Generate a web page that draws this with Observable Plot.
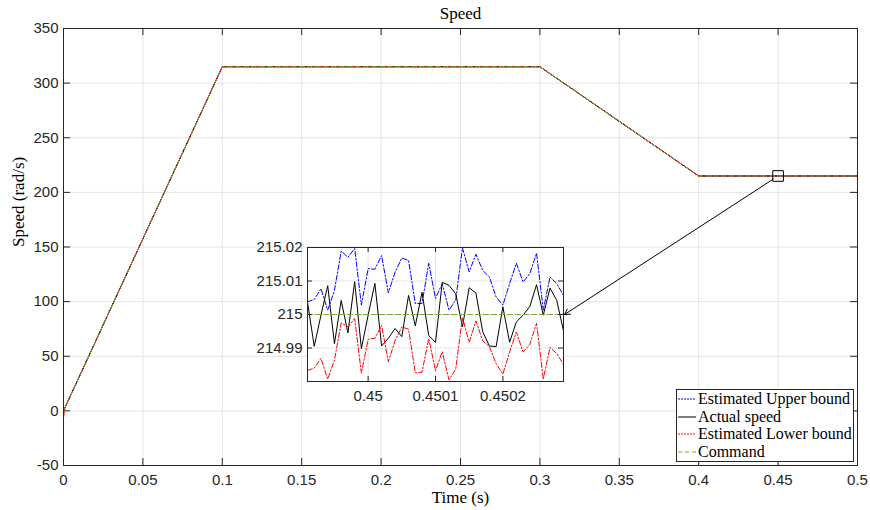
<!DOCTYPE html>
<html><head><meta charset="utf-8">
<script src="https://cdn.jsdelivr.net/npm/d3@7"></script>
<script src="https://cdn.jsdelivr.net/npm/@observablehq/plot@0.6"></script>
<style>
body{margin:0;background:#fff;}
#wrap{position:relative;width:870px;height:510px;overflow:hidden;}
#wrap svg{position:absolute;overflow:visible;}
#legend{position:absolute;left:676px;top:389px;width:178px;height:73px;border:1px solid #262626;background:#fff;box-sizing:border-box;font-family:'Liberation Serif','Times New Roman',serif;font-size:16px;color:#000;padding-top:0px;}
#legend .row{display:flex;align-items:center;height:17.7px;white-space:nowrap;}
#legend .row svg{position:static;margin:0 2px 0 1px;}
</style></head><body><div id="wrap"></div>
<script>
// ---- main axes data ----
const mainTime      = [0, 0.1, 0.3, 0.4, 0.5];
const mainUpper     = [0, 315, 315, 215, 215];
const mainActual    = [0, 315, 315, 215, 215];
const mainCommand   = [0, 315, 315, 215, 215];
const mainLowerTime = [0, 0.001, 0.1, 0.3, 0.4, 0.5];
const mainLower     = [-6, 3.15, 315, 315, 215, 215];
const mainXTicks = [0, 0.05, 0.1, 0.15, 0.2, 0.25, 0.3, 0.35, 0.4, 0.45, 0.5];
const mainYTicks = [-50, 0, 50, 100, 150, 200, 250, 300, 350];
// zoom marker and arrow annotation (data coordinates of main axes)
const zoomPoint = [{t: 0.45, v: 215}];
const arrowLink = [{x1: 0.45, y1: 215, x2: 0.3155, y2: 88.2}];

// ---- inset data ----
const insetTime = [0.44991,0.44992,0.44993,0.44994,0.44995,0.44996,0.44997,0.44998,0.44999,0.45000,
  0.45001,0.45002,0.45003,0.45004,0.45005,0.45006,0.45007,0.45008,0.45009,0.45010,
  0.45011,0.45012,0.45013,0.45014,0.45015,0.45016,0.45017,0.45018,0.45019,0.45020,
  0.45021,0.45022,0.45023,0.45024,0.45025,0.45026,0.45027,0.45028,0.45029];
const insetUpper = [215.0038,215.0045,215.0077,215.0013,215.0072,215.0189,215.0171,215.0197,215.0028,215.0137,
  215.0135,215.0176,215.0065,215.0126,215.0169,215.0161,215.0033,215.0033,215.0153,215.0048,
  215.0092,215.0013,215.0043,215.0199,215.0127,215.0180,215.0132,215.0112,215.0052,215.0028,
  215.0092,215.0153,215.0097,215.0122,215.0183,215.0013,215.0112,215.0092,215.0057];
const insetActual = [215.0037,214.9905,214.9998,215.0086,214.9913,215.0042,214.9945,215.0098,214.9898,214.9998,
  215.0093,214.9906,214.9929,214.9958,214.9934,215.0057,214.9966,215.0066,214.9937,214.9917,
  215.0096,215.0087,215.0062,214.9963,215.0080,215.0064,214.9949,214.9906,214.9904,215.0023,
  214.9917,214.9978,214.9998,215.0024,215.0089,214.9998,215.0079,215.0042,214.9951];
const insetLower = [214.9833,214.9840,214.9869,214.9807,214.9864,214.9975,214.9963,214.9988,214.9825,214.9926,
  214.9929,214.9967,214.9859,214.9922,214.9963,214.9956,214.9826,214.9828,214.9928,214.9832,
  214.9889,214.9805,214.9837,214.9991,214.9917,214.9981,214.9922,214.9904,214.9853,214.9822,
  214.9888,214.9948,214.9888,214.9911,214.9974,214.9807,214.9902,214.9883,214.9851];
const insetCommand = insetTime.map(() => 215);
const insetXTicks = [0.45, 0.4501, 0.4502];
const insetYTicks = [214.99, 215, 215.01, 215.02];

// legend
const legendLabels = ["Estimated Upper bound", "Actual speed", "Estimated Lower bound", "Command"];
const seriesColors = ["#0000ff", "#000000", "#ff0000", "#77ac30"];
const seriesDash = ["5,2,1.5,2", null, "5,2,1.5,2", "5,3"];

const toRows = (t, v) => t.map((x, i) => ({t: x, v: v[i]}));
const axisColor = "#262626", gridColor = "#e4e4e4";
const sans = "'Liberation Sans', Arial, Helvetica, sans-serif";
const serif = "'Liberation Serif', 'Times New Roman', serif";

function lineMarks(tArrs, series) {
  return series.map((vals, k) => Plot.line(toRows(tArrs[k], vals), {
    x: "t", y: "v", stroke: seriesColors[k], strokeWidth: 1,
    strokeDasharray: seriesDash[k] || undefined
  }));
}
function boxTicks(xT, yT, fw, fh, len) {
  return [
    Plot.tickY(yT, {y: d => d, insetRight: fw - len, stroke: axisColor}),
    Plot.tickY(yT, {y: d => d, insetLeft: fw - len, stroke: axisColor}),
    Plot.tickX(xT, {x: d => d, insetTop: fh - len, stroke: axisColor}),
    Plot.tickX(xT, {x: d => d, insetBottom: fh - len, stroke: axisColor})
  ];
}

const W = 870, H = 510, mL = 63, mR = 13, mT = 28, mB = 45;
const fw = W - mL - mR, fh = H - mT - mB;
const main = Plot.plot({
  width: W, height: H, marginLeft: mL, marginRight: mR, marginTop: mT, marginBottom: mB,
  style: {fontFamily: sans, background: "transparent", overflow: "visible"},
  x: {domain: [0, 0.5]}, y: {domain: [-50, 350]},
  marks: [
    Plot.gridX(mainXTicks, {stroke: gridColor, strokeOpacity: 1}),
    Plot.gridY(mainYTicks, {stroke: gridColor, strokeOpacity: 1}),
    ...lineMarks([mainTime, mainTime, mainLowerTime, mainTime], [mainUpper, mainActual, mainLower, mainCommand]),
    Plot.dot(zoomPoint, {x: "t", y: "v", symbol: "square", r: 6, stroke: "#000", fill: "none", strokeWidth: 1}),
    Plot.arrow(arrowLink, {x1: "x1", y1: "y1", x2: "x2", y2: "y2", insetStart: 6, headLength: 9, stroke: "#000", strokeWidth: 1}),
    ...boxTicks(mainXTicks, mainYTicks, fw, fh, 7),
    Plot.axisX(mainXTicks, {tickSize: 0, tickPadding: 9, tickFormat: d => String(d), fontSize: 15, color: axisColor, label: null}),
    Plot.axisY(mainYTicks, {tickSize: 0, tickPadding: 5, tickFormat: d => String(d), fontSize: 15, color: axisColor, label: null}),
    Plot.frame({stroke: axisColor}),
    Plot.text(["Speed"], {frameAnchor: "top", lineAnchor: "middle", dy: -15, fontFamily: serif, fontSize: 17, fill: "#000"}),
    Plot.text(["Time (s)"], {frameAnchor: "bottom", lineAnchor: "middle", dy: 32, fontFamily: serif, fontSize: 17, fill: "#000"}),
    Plot.text(["Speed (rad/s)"], {frameAnchor: "left", lineAnchor: "middle", dx: -45, rotate: -90, fontFamily: serif, fontSize: 17, fill: "#000"})
  ]
});
main.style.left = "0px"; main.style.top = "0px";

const iML = 60, iMR = 5, iMT = 5, iMB = 28, ifw = 256, ifh = 134;
const inset = Plot.plot({
  width: iML + ifw + iMR, height: iMT + ifh + iMB,
  marginLeft: iML, marginRight: iMR, marginTop: iMT, marginBottom: iMB,
  style: {fontFamily: sans, background: "transparent", overflow: "visible"},
  x: {domain: [0.44991, 0.45029]}, y: {domain: [214.98, 215.02]},
  marks: [
    Plot.frame({fill: "#fff"}),
    Plot.gridX(insetXTicks, {stroke: gridColor, strokeOpacity: 1}),
    Plot.gridY(insetYTicks, {stroke: gridColor, strokeOpacity: 1}),
    ...lineMarks([insetTime, insetTime, insetTime, insetTime], [insetUpper, insetActual, insetLower, insetCommand]),
    ...boxTicks(insetXTicks, insetYTicks, ifw, ifh, 5),
    Plot.axisX(insetXTicks, {tickSize: 0, tickPadding: 9, tickFormat: d => String(d), fontSize: 15, color: axisColor, label: null}),
    Plot.axisY(insetYTicks, {tickSize: 0, tickPadding: 5, tickFormat: d => String(d), fontSize: 15, color: axisColor, label: null}),
    Plot.frame({stroke: axisColor})
  ]
});
inset.style.left = (307 - iML) + "px"; inset.style.top = (247 - iMT) + "px";

const wrap = document.getElementById("wrap");
wrap.appendChild(main);
wrap.appendChild(inset);

const leg = document.createElement("div");
leg.id = "legend";
legendLabels.forEach((lab, k) => {
  const row = document.createElement("div");
  row.className = "row";
  const ns = "http://www.w3.org/2000/svg";
  const s = document.createElementNS(ns, "svg");
  s.setAttribute("width", 18); s.setAttribute("height", 10);
  const l = document.createElementNS(ns, "line");
  l.setAttribute("x1", 0); l.setAttribute("x2", 18); l.setAttribute("y1", 5); l.setAttribute("y2", 5);
  l.setAttribute("stroke", seriesColors[k]);
  if (seriesDash[k]) l.setAttribute("stroke-dasharray", k === 3 ? "4,3" : "2,1");
  s.appendChild(l);
  row.appendChild(s);
  const span = document.createElement("span");
  span.textContent = lab;
  row.appendChild(span);
  leg.appendChild(row);
});
wrap.appendChild(leg);
</script></body></html>
